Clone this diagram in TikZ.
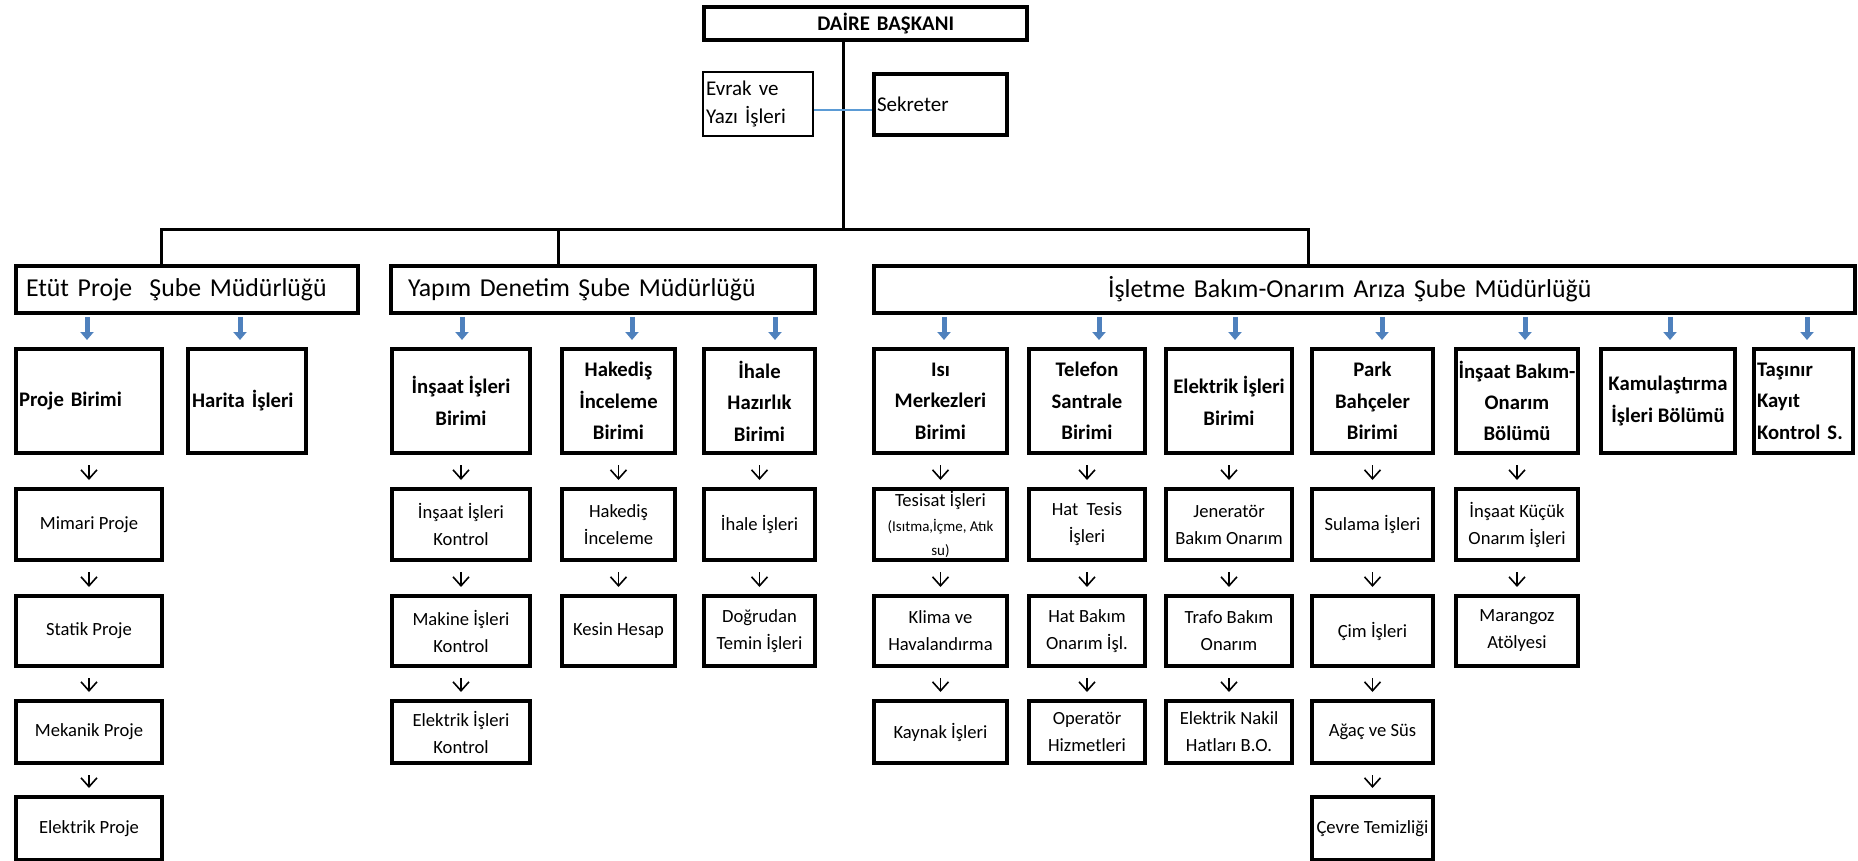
\documentclass[tikz,border=0pt]{standalone}
\usepackage{fontspec}
\setmainfont{Carlito}
\usetikzlibrary{arrows.meta}
\definecolor{arrowblue}{RGB}{79,129,189}
\definecolor{linkblue}{RGB}{91,155,213}
\tikzset{
	box/.style={draw, line width=2pt, inner xsep=0.5pt, inner ysep=0pt, anchor=north west},
	unit/.style={box, align=center, font=\fontsize{9.3}{13.5}\selectfont},
	birim/.style={box, align=center, font=\bfseries\fontsize{10.35}{15.7}\selectfont},
	birimleft/.style={birim, align=left},
	head/.style={box, align=left, font=\fontsize{12.9}{16}\selectfont},
	conn/.style={line width=1.5pt},
	subarrow/.style={line width=2.5pt, arrowblue, shorten <=1pt, -{Triangle[length=4pt,width=6.5pt]}},
	dn/.style={line width=0.8pt, shorten <=5pt, shorten >=3.5pt, -{Straight Barb[length=4.5pt,width=8pt]}},
	link/.style={linkblue, line width=0.6pt},
}

\begin{document}
\begin{tikzpicture}[x=1pt,y=-1pt]
			%%%%% START %%%%%
			\useasboundingbox (0,0) rectangle (929,430.5);
			
			% top
			\node[box, font=\bfseries\fontsize{10.4}{12}\selectfont, align=right, inner xsep=36.5pt, text width=88.5pt, minimum height=16.5pt] (daire) at (351,2.5) {DAİRE BAŞKANI};
			\node[box, line width=1pt, font=\fontsize{10.5}{14}\selectfont, align=left, inner xsep=1.5pt, text width=52pt, minimum height=32pt] (evrak) at (351,35.5) {Evrak ve\\Yazı İşleri};
			\node[box, font=\fontsize{10.5}{14}\selectfont, align=left, inner xsep=1.5pt, text width=63.5pt, minimum height=30.5pt] (sekreter) at (436,36) {Sekreter};
			
			% sube mudurlukleri
			\node[head, inner xsep=5pt, text width=161pt, minimum height=23.5pt] (etut) at (7,132) {Etüt Proje\ \ Şube Müdürlüğü};
			\node[head, inner xsep=8.5pt, text width=195pt, minimum height=23.5pt] (yapim) at (194.5,132) {Yapım Denetim Şube Müdürlüğü};
			\node[head, inner xsep=117pt, text width=256.5pt, minimum height=23.5pt] (isletme) at (436,132) {İşletme Bakım-Onarım Arıza Şube Müdürlüğü};
			
			% birimler
			\node[birimleft, inner xsep=1.5pt, text width=70pt, minimum height=52pt] (proje) at (7,173.5) {Proje Birimi};
			\node[birimleft, inner xsep=2pt, text width=55pt, minimum height=52pt] (harita) at (93,173.5) {Harita İşleri};
			\node[birim, minimum width=69pt, minimum height=52pt] (insaat) at (195,173.5) {İnşaat İşleri\\Birimi};
			\node[birim, minimum width=56.5pt, minimum height=52pt] (hakedis) at (280,173.5) {Hakediş\\İnceleme\\Birimi};
			\node[birim, minimum width=55.5pt, minimum height=52pt] (ihale) at (351,173.5) {İhale\\Hazırlık\\Birimi};
			\node[birim, minimum width=66.5pt, minimum height=52pt] (isi) at (436,173.5) {Isı\\Merkezleri\\Birimi};
			\node[birim, minimum width=58pt, minimum height=52pt] (telefon) at (513.5,173.5) {Telefon\\Santrale\\Birimi};
			\node[birim, minimum width=63pt, minimum height=52pt] (elektrik) at (582,173.5) {Elektrik İşleri\\Birimi};
			\node[birim, minimum width=60.5pt, minimum height=52pt] (park) at (655,173.5) {Park\\Bahçeler\\Birimi};
			\node[birim, minimum width=61pt, minimum height=52pt] (ibakim) at (727,173.5) {İnşaat Bakım-\\Onarım\\Bölümü};
			\node[birim, minimum width=67pt, minimum height=52pt] (kamu) at (799.5,173.5) {Kamulaştırma\\İşleri Bölümü};
			\node[birimleft, inner xsep=1.5pt, text width=46.5pt, minimum height=52pt] (tasinir) at (876,173.5) {Taşınır\\Kayıt\\Kontrol S.};
			
			% row 2
			\node[unit, minimum width=73pt, minimum height=35.5pt] (mimari) at (7,243.5) {Mimari Proje};
			\node[unit, minimum width=69pt, minimum height=35.5pt] (ikontrol) at (195,243.5) {İnşaat İşleri\\Kontrol};
			\node[unit, minimum width=56.5pt, minimum height=35.5pt] (hinceleme) at (280,243.5) {Hakediş\\İnceleme};
			\node[unit, minimum width=55.5pt, minimum height=35.5pt] (iisleri) at (351,243.5) {İhale İşleri};
			\node[unit, minimum width=66.5pt, minimum height=35.5pt] (tesisat) at (436,243.5) {Tesisat İşleri\\[-1pt]{\fontsize{7.5}{9}\selectfont(Isıtma,İçme, Atık}\\[-1.5pt]{\fontsize{7.5}{9}\selectfont su)}};
			\node[unit, minimum width=58pt, minimum height=35.5pt] (hattesis) at (513.5,243.5) {Hat\ \ Tesis\\İşleri};
			\node[unit, minimum width=63pt, minimum height=35.5pt] (jenerator) at (582,243.5) {Jeneratör\\Bakım Onarım};
			\node[unit, minimum width=60.5pt, minimum height=35.5pt] (sulama) at (655,243.5) {Sulama İşleri};
			\node[unit, minimum width=61pt, minimum height=35.5pt] (kucuk) at (727,243.5) {İnşaat Küçük\\Onarım İşleri};
			
			% row 3
			\node[unit, minimum width=73pt, minimum height=35pt] (statik) at (7,297) {Statik Proje};
			\node[unit, minimum width=69pt, minimum height=35pt] (mkontrol) at (195,297) {Makine İşleri\\Kontrol};
			\node[unit, minimum width=56.5pt, minimum height=35pt] (kesin) at (280,297) {Kesin Hesap};
			\node[unit, minimum width=55.5pt, minimum height=35pt] (dogrudan) at (351,297) {Doğrudan\\Temin İşleri};
			\node[unit, minimum width=66.5pt, minimum height=35pt] (klima) at (436,297) {Klima ve\\Havalandırma};
			\node[unit, minimum width=58pt, minimum height=35pt] (hatbakim) at (513.5,297) {Hat Bakım\\Onarım İşl.};
			\node[unit, minimum width=63pt, minimum height=35pt] (trafo) at (582,297) {Trafo Bakım\\Onarım};
			\node[unit, minimum width=60.5pt, minimum height=35pt] (cim) at (655,297) {Çim İşleri};
			\node[unit, minimum width=61pt, minimum height=35pt] (marangoz) at (727,297) {Marangoz\\Atölyesi};
			
			% row 4
			\node[unit, minimum width=73pt, minimum height=31pt] (mekanik) at (7,349.5) {Mekanik Proje};
			\node[unit, minimum width=69pt, minimum height=31pt] (ekontrol) at (195,349.5) {Elektrik İşleri\\Kontrol};
			\node[unit, minimum width=66.5pt, minimum height=31pt] (kaynak) at (436,349.5) {Kaynak İşleri};
			\node[unit, minimum width=58pt, minimum height=31pt] (operator) at (513.5,349.5) {Operatör\\Hizmetleri};
			\node[unit, minimum width=63pt, minimum height=31pt] (nakil) at (582,349.5) {Elektrik Nakil\\Hatları B.O.};
			\node[unit, minimum width=60.5pt, minimum height=31pt] (agac) at (655,349.5) {Ağaç ve Süs};
			
			% row 5
			\node[unit, minimum width=73pt, minimum height=31.5pt] (eproje) at (7,397.5) {Elektrik Proje};
			\node[unit, minimum width=60.5pt, minimum height=31.5pt] (cevre) at (655,397.5) {Çevre Temizliği};
			
			% hat
			\coordinate (bus) at (421.5,115);
			\coordinate (busL) at (80.5,115);
			\coordinate (busM) at (279,115);
			\coordinate (busR) at (654,115);
			\draw[conn] (daire.south -| bus) -- (bus);
			\draw[conn] (etut.north -| busL) -- (busL) -- (busR) -- (isletme.north -| busR);
			\draw[conn] (busM) -- (busM |- yapim.north);
			\draw[link] ([yshift=-3pt]evrak.east) -- ([yshift=-3pt]evrak.east -| sekreter.west);
			
			% mavi oklar
			\foreach \c/\dx in {proje/-1, harita/-3.5}{
				\coordinate (t) at ([xshift=\dx pt]\c.north);
				\draw[subarrow] (t |- etut.south) -- ([yshift=3.5pt]t);
			}
			\foreach \c/\dx in {insaat/0.5, hakedis/6.75, ihale/7.75}{
				\coordinate (t) at ([xshift=\dx pt]\c.north);
				\draw[subarrow] (t |- yapim.south) -- ([yshift=3.5pt]t);
			}
			\foreach \c/\dx in {isi/1.75, telefon/6, elektrik/3, park/4.75, ibakim/4, kamu/1, tasinir/1.75}{
				\coordinate (t) at ([xshift=\dx pt]\c.north);
				\draw[subarrow] (t |- isletme.south) -- ([yshift=3.5pt]t);
			}
			
			% ince oklar
			\foreach \a/\b in {proje/mimari, mimari/statik, statik/mekanik, mekanik/eproje,
				insaat/ikontrol, ikontrol/mkontrol, mkontrol/ekontrol,
				hakedis/hinceleme, hinceleme/kesin, ihale/iisleri, iisleri/dogrudan,
				isi/tesisat, tesisat/klima, klima/kaynak,
				telefon/hattesis, hattesis/hatbakim, hatbakim/operator,
				elektrik/jenerator, jenerator/trafo, trafo/nakil,
				park/sulama, sulama/cim, cim/agac, agac/cevre,
				ibakim/kucuk, kucuk/marangoz}
				\draw[dn] (\a.south) -- (\b.north);
			
			%%%%% END %%%%%
\end{tikzpicture}
\end{document}
